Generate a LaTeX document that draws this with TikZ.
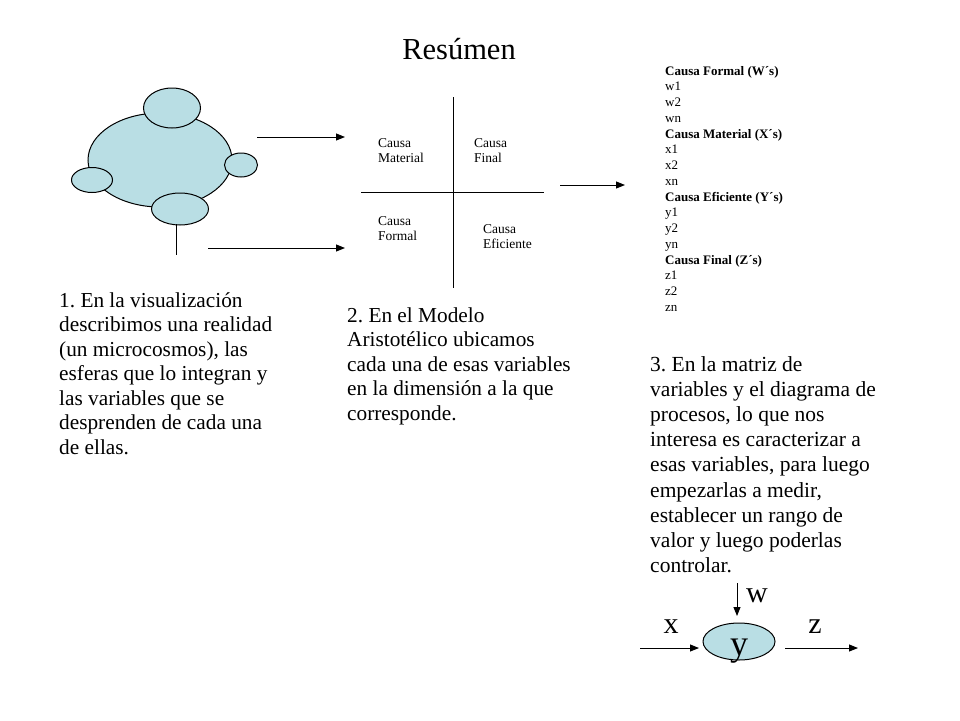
\documentclass[tikz,border=0pt]{standalone}
\usepackage{fontspec}
\setmainfont{Liberation Serif}
\usetikzlibrary{shapes.geometric,arrows.meta}
\definecolor{sphere}{RGB}{185,222,228}
\frenchspacing
\begin{document}
\begin{tikzpicture}[x=1pt,y=-1pt,
  ball/.style={ellipse,draw=black,fill=sphere,line width=1pt,inner sep=0pt},
  arr/.style={-{Triangle[length=9pt,width=7pt]},line width=1pt},
  plain/.style={line width=1pt},
  body/.style={anchor=base west,align=left,inner sep=0pt,font=\fontsize{21.3}{24.5}\selectfont},
  bodyb/.style={anchor=base west,align=left,inner sep=0pt,font=\fontsize{21.5}{25.2}\selectfont},
  small/.style={anchor=base west,align=left,inner sep=0pt,font=\fontsize{13.5}{15.5}\selectfont},
  listtxt/.style={anchor=base west,align=left,inner sep=0pt,font=\fontsize{13}{15.75}\selectfont},
  letter/.style={anchor=base,inner sep=0pt,font=\fontsize{30}{30}\selectfont}]
\useasboundingbox (0,0) rectangle (960,720);
% title
\node[anchor=base,inner sep=0pt,font=\fontsize{30.5}{30.5}\selectfont] (title) at (459,59) {Resúmen};
% spheres
\node[ball,minimum width=144pt,minimum height=94pt] (big) at (160,160) {};
\node[ball,minimum width=57pt,minimum height=40pt] (top) at (172,108) {};
\node[ball,minimum width=33pt,minimum height=24pt] (right) at (241,165) {};
\node[ball,minimum width=41pt,minimum height=25pt] (left) at (92,180) {};
\node[ball,minimum width=57pt,minimum height=32pt] (bot) at (180,209) {};
\coordinate (stemtop) at (176,224);
\coordinate (stembot) at (176,255);
\draw[plain] (stemtop) -- (stembot);
\coordinate (a1s) at (257,137); \coordinate (a1e) at (345,137);
\coordinate (a2s) at (208,248); \coordinate (a2e) at (345,248);
\draw[arr] (a1s) -- (a1e);
\draw[arr] (a2s) -- (a2e);
% quadrant
\coordinate (vt) at (453,97); \coordinate (vb) at (453,288);
\coordinate (hl) at (361,192); \coordinate (hr) at (544,192);
\draw[plain] (vt) -- (vb);
\draw[plain] (hl) -- (hr);
\node[small] (cmat) at (378,162.5) {Causa\\Material};
\node[small] (cfin) at (474,162.5) {Causa\\Final};
\node[small] (cfor) at (378,240.5) {Causa\\Formal};
\node[small] (cefi) at (483,248.5) {Causa\\Eficiente};
\coordinate (a3s) at (560,185); \coordinate (a3e) at (625,185);
\draw[arr] (a3s) -- (a3e);
% list
\node[listtxt] (list) at (665,311.25) {\textbf{Causa Formal (W´s)}\\w1\\w2\\wn\\
\textbf{Causa Material (X´s)}\\x1\\x2\\xn\\
\textbf{Causa Eficiente (Y´s)}\\y1\\y2\\yn\\
\textbf{Causa Final (Z´s)}\\z1\\z2\\zn};
% paragraphs
\node[body] (p1) at (59,454) {1. En la visualización\\describimos una realidad\\(un microcosmos), las\\esferas que lo integran y\\las variables que se\\desprenden de cada una\\de ellas.};
\node[body] (p2) at (347,420) {2. En el Modelo\\Aristotélico ubicamos\\cada una de esas variables\\en la dimensión a la que\\corresponde.};
\node[bodyb] (p3) at (650,572.6) {3. En la matriz de\\variables y el diagrama de\\procesos, lo que nos\\interesa es caracterizar a\\esas variables, para luego\\empezarlas a medir,\\establecer un rango de\\valor y luego poderlas\\controlar.};
% process diagram
\node[ball,minimum width=72pt,minimum height=37pt] (yell) at (739,641.5) {};
\node[letter,font=\fontsize{36}{36}\selectfont] (ylab) at (739,655) {y};
\node[letter] (xlab) at (671,633) {x};
\node[letter] (zlab) at (815,633) {z};
\node[letter] (wlab) at (757,602) {w};
\coordinate (ins) at (640,648); \coordinate (ine) at (699,648);
\coordinate (outs) at (785,648); \coordinate (oute) at (858,648);
\coordinate (ws) at (737,583); \coordinate (we) at (737,616);
\draw[arr] (ins) -- (ine);
\draw[arr] (outs) -- (oute);
\draw[arr] (ws) -- (we);
\end{tikzpicture}
\end{document}
